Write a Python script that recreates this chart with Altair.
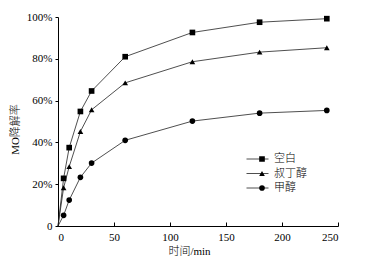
import altair as alt
import pandas as pd

times = [0, 5, 10, 20, 30, 60, 120, 180, 240]
blank = [0, 22.8, 37.5, 54.8, 64.6, 81.0, 92.6, 97.5, 99.2]
tba = [0, 18.3, 28.4, 45.2, 55.6, 68.5, 78.6, 83.2, 85.3]
methanol = [0, 5.1, 12.4, 23.3, 30.1, 41.0, 50.2, 54.0, 55.3]
series = ["空白", "叔丁醇", "甲醇"]
shapes = ["square", "triangle-up", "circle"]
x_ticks = [0, 50, 100, 150, 200, 250]
y_ticks = [0, 20, 40, 60, 80, 100]

rows = []
for name, vals in zip(series, [blank, tba, methanol]):
    for t, v in zip(times, vals):
        rows.append({"t": t, "v": v, "series": name, "s2": name})
df = pd.DataFrame(rows)

FONT = "Liberation Serif, Noto Sans CJK SC"
W, H = 280, 209

yaxis = alt.Axis(values=y_ticks, labelExpr="datum.value == 0 ? '0' : datum.value + '%'",
                 title="MO降解率", tickSize=3, labelPadding=3, grid=False,
                 domainColor="black", tickColor="black", labelColor="black",
                 labelFont=FONT, labelFontSize=11, titleFont=FONT, titleFontSize=11,
                 titleFontWeight=300, titleColor="black",
                 titleX=-43, titleY=112, titleBaseline="middle", titleAlign="center")
yenc = alt.Y("v:Q", scale=alt.Scale(domain=[0, 100], nice=False), axis=yaxis)
xscale = alt.Scale(domain=[0, 250], nice=False)

base = alt.Chart(df)

lines = base.mark_line(strokeWidth=0.8).encode(
    x=alt.X("t:Q", scale=xscale,
            axis=alt.Axis(values=x_ticks, ticks=False, tickSize=0, labelPadding=5,
                          grid=False, domainColor="black", labelColor="black",
                          labelFont=FONT, labelFontSize=11, title="时间/min",
                          titleFont=FONT, titleFontSize=11, titleFontWeight=300,
                          titleColor="black", titleX=131, titleY=25,
                          titleBaseline="middle", titleAlign="center")),
    y=yenc,
    stroke=alt.Stroke("series:N", scale=alt.Scale(domain=series, range=["#222222"] * 3),
                      legend=alt.Legend(orient="none", legendX=188, legendY=135.5, title=None,
                                        symbolType="stroke", symbolSize=484,
                                        symbolStrokeWidth=0.8, labelFont=FONT,
                                        labelFontSize=11, labelFontWeight=300,
                                        labelOffset=5, labelColor="black",
                                        clipHeight=13, rowPadding=1.5, padding=0)),
)

points = base.transform_filter("datum.t > 0").mark_point(
    filled=True, size=32, color="black", opacity=1).encode(
    x=alt.X("t:Q", scale=xscale,
            axis=alt.Axis(orient="top", offset=-H, labels=False, domain=False, ticks=True,
                          tickSize=4, tickColor="black", values=x_ticks, title=None,
                          grid=False)),
    y=yenc,
    shape=alt.Shape("s2:N", sort=series, scale=alt.Scale(range=shapes),
                    legend=alt.Legend(orient="none", legendX=199, legendY=135.5, title=None,
                                      labelExpr="''", symbolSize=32, symbolFillColor="black",
                                      symbolStrokeColor="black", clipHeight=13,
                                      rowPadding=1.5, padding=0)),
)

chart = alt.layer(lines, points).resolve_axis(x="independent").properties(
    width=W, height=H,
    autosize=alt.AutoSizeParams(type="none"),
    padding={"left": 58, "top": 17, "right": 29, "bottom": 36},
    background="white",
).configure_view(stroke=None)

chart.save("out.html", embed_options={"renderer": "svg", "actions": False})
